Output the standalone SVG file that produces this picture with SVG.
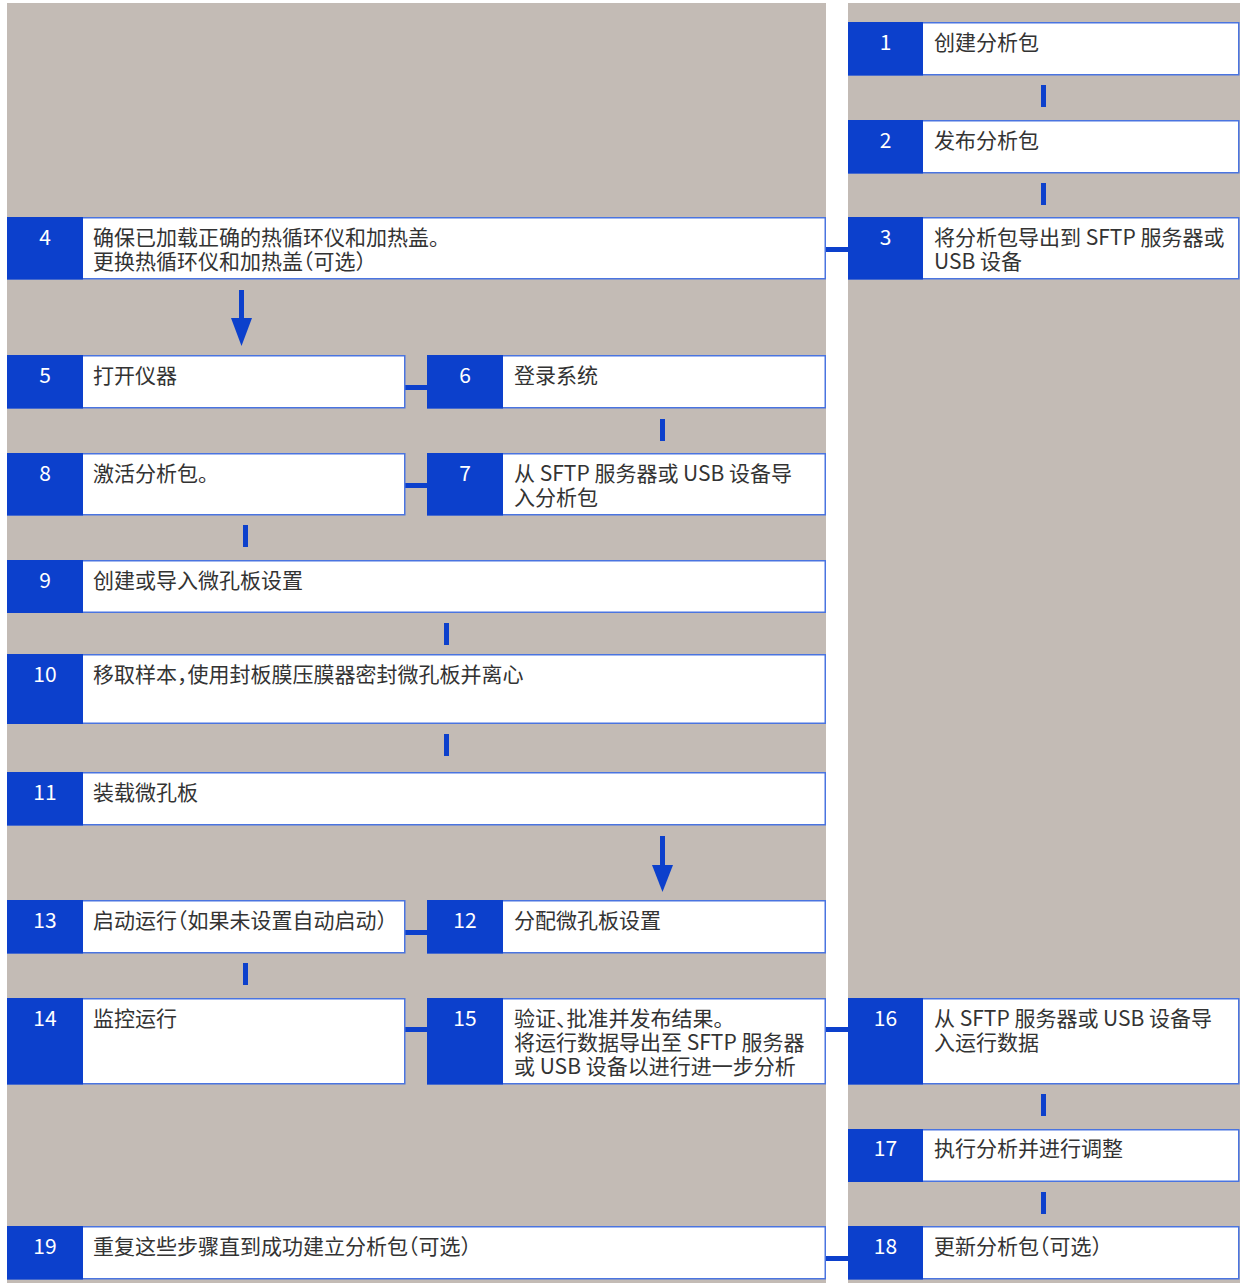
<svg xmlns="http://www.w3.org/2000/svg" width="1240" height="1283" viewBox="0 0 1240 1283">
<style>
.panel{fill:#c3bbb5}
.box{fill:#ffffff;stroke:#4a74e0;stroke-width:1.5}
.num{fill:#0c40cc}
.nt{font-family:"Noto Sans CJK SC","Noto Sans",sans-serif;font-size:21px;fill:#ffffff;text-anchor:middle}
.tx{font-family:"Noto Sans CJK SC","Noto Sans",sans-serif;font-size:21px;fill:#333333;font-feature-settings:"halt" 1}
.con{fill:#0c40cc}
</style>
<rect width="1240" height="1283" fill="#ffffff"/>
<rect class="panel" x="7" y="3" width="819" height="1280"/>
<rect class="panel" x="848" y="3" width="392" height="1280"/>

<g id="connectors">
  <rect class="con" x="1041" y="85" width="5" height="22"/>
  <rect class="con" x="1041" y="183" width="5" height="22"/>
  <rect class="con" x="826" y="247" width="22" height="5"/>
  <rect class="con" x="239" y="290" width="5" height="30"/>
  <polygon class="con" points="231,318 252,318 241.5,346"/>
  <rect class="con" x="405" y="385" width="22" height="5"/>
  <rect class="con" x="660" y="419" width="5" height="22"/>
  <rect class="con" x="405" y="483" width="22" height="5"/>
  <rect class="con" x="243" y="525" width="5" height="22"/>
  <rect class="con" x="444" y="623" width="5" height="22"/>
  <rect class="con" x="444" y="734" width="5" height="22"/>
  <rect class="con" x="660" y="836" width="5" height="30"/>
  <polygon class="con" points="652,865 673,865 662.5,892"/>
  <rect class="con" x="405" y="930" width="22" height="5"/>
  <rect class="con" x="243" y="963" width="5" height="22"/>
  <rect class="con" x="405" y="1027" width="22" height="5"/>
  <rect class="con" x="826" y="1027" width="22" height="5"/>
  <rect class="con" x="1041" y="1094" width="5" height="22"/>
  <rect class="con" x="1041" y="1192" width="5" height="22"/>
  <rect class="con" x="826" y="1256" width="22" height="5"/>
</g>

<g id="node1">
  <rect class="box" x="848.75" y="22.75" width="390" height="52"/>
  <rect class="num" x="848" y="22" width="75" height="53.5"/>
  <text class="nt" x="885.5" y="50">1</text>
  <text class="tx" x="934" y="50">创建分析包</text>
</g>
<g id="node2">
  <rect class="box" x="848.75" y="120.75" width="390" height="52"/>
  <rect class="num" x="848" y="120" width="75" height="53.5"/>
  <text class="nt" x="885.5" y="148">2</text>
  <text class="tx" x="934" y="148">发布分析包</text>
</g>
<g id="node3">
  <rect class="box" x="848.75" y="217.75" width="390" height="61"/>
  <rect class="num" x="848" y="217" width="75" height="62.5"/>
  <text class="nt" x="885.5" y="245">3</text>
  <text class="tx" x="934" y="245">将分析包导出到 SFTP 服务器或</text>
  <text class="tx" x="934" y="269">USB 设备</text>
</g>
<g id="node4">
  <rect class="box" x="7.75" y="217.75" width="817.5" height="61"/>
  <rect class="num" x="7" y="217" width="76" height="62.5"/>
  <text class="nt" x="45" y="245">4</text>
  <text class="tx" x="93" y="245">确保已加载正确的热循环仪和加热盖。</text>
  <text class="tx" x="93" y="269">更换热循环仪和加热盖（可选）</text>
</g>
<g id="node5">
  <rect class="box" x="7.75" y="355.75" width="397" height="52"/>
  <rect class="num" x="7" y="355" width="76" height="53.5"/>
  <text class="nt" x="45" y="383">5</text>
  <text class="tx" x="93" y="383">打开仪器</text>
</g>
<g id="node6">
  <rect class="box" x="427.75" y="355.75" width="397.5" height="52"/>
  <rect class="num" x="427" y="355" width="76" height="53.5"/>
  <text class="nt" x="465" y="383">6</text>
  <text class="tx" x="514" y="383">登录系统</text>
</g>
<g id="node7">
  <rect class="box" x="427.75" y="453.75" width="397.5" height="61"/>
  <rect class="num" x="427" y="453" width="76" height="62.5"/>
  <text class="nt" x="465" y="481">7</text>
  <text class="tx" x="514" y="481">从 SFTP 服务器或 USB 设备导</text>
  <text class="tx" x="514" y="505">入分析包</text>
</g>
<g id="node8">
  <rect class="box" x="7.75" y="453.75" width="397" height="61"/>
  <rect class="num" x="7" y="453" width="76" height="62.5"/>
  <text class="nt" x="45" y="481">8</text>
  <text class="tx" x="93" y="481">激活分析包。</text>
</g>
<g id="node9">
  <rect class="box" x="7.75" y="560.75" width="817.5" height="51.5"/>
  <rect class="num" x="7" y="560" width="76" height="53"/>
  <text class="nt" x="45" y="588">9</text>
  <text class="tx" x="93" y="588">创建或导入微孔板设置</text>
</g>
<g id="node10">
  <rect class="box" x="7.75" y="654.75" width="817.5" height="68.5"/>
  <rect class="num" x="7" y="654" width="76" height="70"/>
  <text class="nt" x="45" y="682">10</text>
  <text class="tx" x="93" y="682">移取样本，使用封板膜压膜器密封微孔板并离心</text>
</g>
<g id="node11">
  <rect class="box" x="7.75" y="772.75" width="817.5" height="52"/>
  <rect class="num" x="7" y="772" width="76" height="53.5"/>
  <text class="nt" x="45" y="800">11</text>
  <text class="tx" x="93" y="800">装载微孔板</text>
</g>
<g id="node12">
  <rect class="box" x="427.75" y="900.75" width="397.5" height="52"/>
  <rect class="num" x="427" y="900" width="76" height="53.5"/>
  <text class="nt" x="465" y="928">12</text>
  <text class="tx" x="514" y="928">分配微孔板设置</text>
</g>
<g id="node13">
  <rect class="box" x="7.75" y="900.75" width="397" height="52"/>
  <rect class="num" x="7" y="900" width="76" height="53.5"/>
  <text class="nt" x="45" y="928">13</text>
  <text class="tx" x="93" y="928">启动运行（如果未设置自动启动）</text>
</g>
<g id="node14">
  <rect class="box" x="7.75" y="998.75" width="397" height="85"/>
  <rect class="num" x="7" y="998" width="76" height="86.5"/>
  <text class="nt" x="45" y="1026">14</text>
  <text class="tx" x="93" y="1026">监控运行</text>
</g>
<g id="node15">
  <rect class="box" x="427.75" y="998.75" width="397.5" height="85"/>
  <rect class="num" x="427" y="998" width="76" height="86.5"/>
  <text class="nt" x="465" y="1026">15</text>
  <text class="tx" x="514" y="1026">验证、批准并发布结果。</text>
  <text class="tx" x="514" y="1050">将运行数据导出至 SFTP 服务器</text>
  <text class="tx" x="514" y="1074">或 USB 设备以进行进一步分析</text>
</g>
<g id="node16">
  <rect class="box" x="848.75" y="998.75" width="390" height="85"/>
  <rect class="num" x="848" y="998" width="75" height="86.5"/>
  <text class="nt" x="885.5" y="1026">16</text>
  <text class="tx" x="934" y="1026">从 SFTP 服务器或 USB 设备导</text>
  <text class="tx" x="934" y="1050">入运行数据</text>
</g>
<g id="node17">
  <rect class="box" x="848.75" y="1129.75" width="390" height="51.5"/>
  <rect class="num" x="848" y="1129" width="75" height="53"/>
  <text class="nt" x="885.5" y="1156">17</text>
  <text class="tx" x="934" y="1156">执行分析并进行调整</text>
</g>
<g id="node18">
  <rect class="box" x="848.75" y="1226.75" width="390" height="52"/>
  <rect class="num" x="848" y="1226" width="75" height="53.5"/>
  <text class="nt" x="885.5" y="1254">18</text>
  <text class="tx" x="934" y="1254">更新分析包（可选）</text>
</g>
<g id="node19">
  <rect class="box" x="7.75" y="1226.75" width="817.5" height="52"/>
  <rect class="num" x="7" y="1226" width="76" height="53.5"/>
  <text class="nt" x="45" y="1254">19</text>
  <text class="tx" x="93" y="1254">重复这些步骤直到成功建立分析包（可选）</text>
</g>
</svg>
